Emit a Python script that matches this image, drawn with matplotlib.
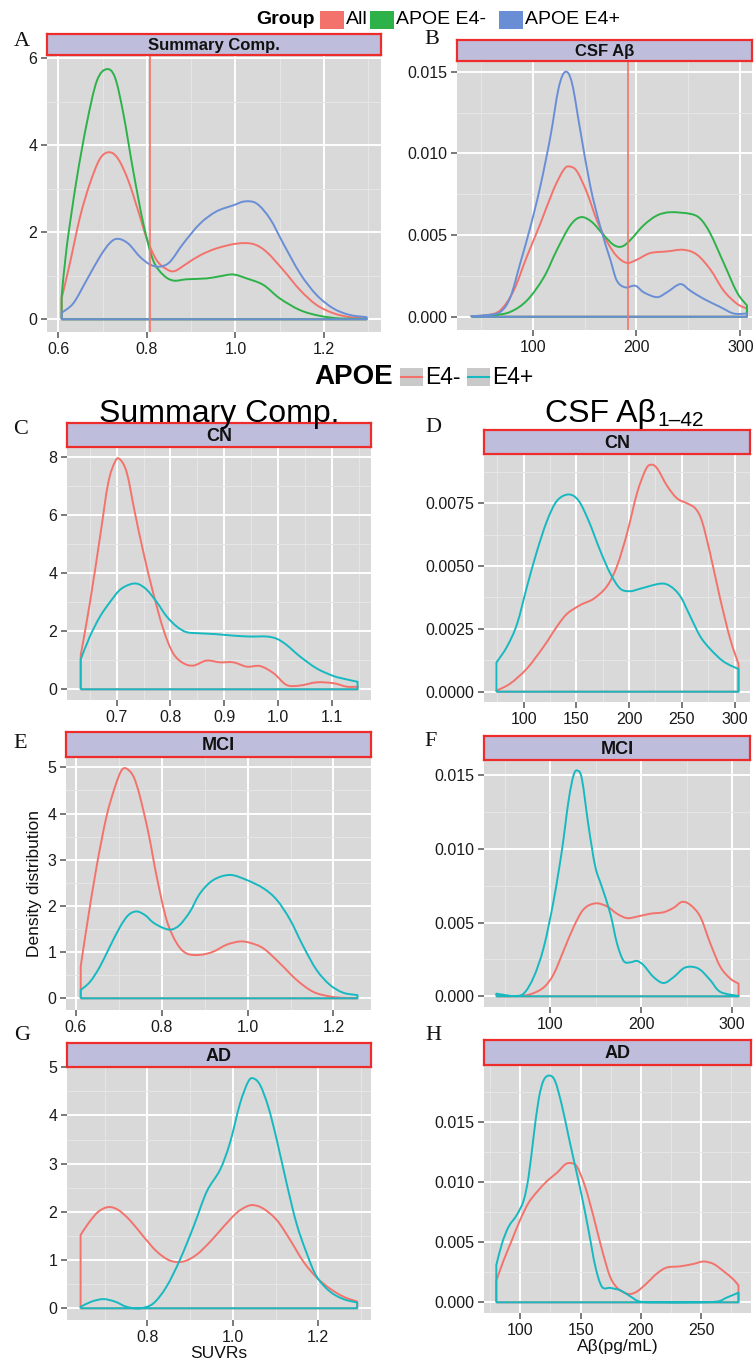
import numpy as np
import matplotlib
matplotlib.use("Agg")
import matplotlib.pyplot as plt
from matplotlib.patches import Rectangle, PathPatch
from matplotlib.path import Path

plt.rcParams['font.family'] = ['Liberation Sans', 'DejaVu Sans']

# ---- data (x, density) ----
RED, GREEN, BLUE, CYAN = '#F3736C', '#2DB24A', '#6A8ED6', '#17B9C1'

group_labels = ['All', 'APOE E4-', 'APOE E4+']
group_colors = [RED, GREEN, BLUE]
apoe_labels = ['E4-', 'E4+']
apoe_colors = [RED, CYAN]

# A: Summary Comp. (all subjects)
a_all = [(0.6075, 0.48), (0.626, 1.28), (0.649, 2.35), (0.671, 3.11), (0.694, 3.69), (0.715, 3.84),
         (0.735, 3.69), (0.758, 3.19), (0.781, 2.47), (0.80, 1.85), (0.822, 1.36), (0.845, 1.15),
         (0.863, 1.11), (0.89, 1.28), (0.92, 1.47), (0.957, 1.63), (1.003, 1.74), (1.04, 1.73),
         (1.07, 1.55), (1.108, 1.13), (1.146, 0.67), (1.183, 0.33), (1.221, 0.14), (1.258, 0.05), (1.296, 0.02)]
a_e4neg = [(0.6075, 0.52), (0.619, 1.66), (0.641, 3.19), (0.664, 4.49), (0.687, 5.48), (0.709, 5.75),
           (0.728, 5.56), (0.747, 4.72), (0.769, 3.42), (0.792, 2.20), (0.814, 1.36), (0.837, 1.02),
           (0.86, 0.89), (0.89, 0.92), (0.935, 0.94), (0.965, 0.99), (0.995, 1.03), (1.025, 0.94),
           (1.063, 0.79), (1.10, 0.48), (1.146, 0.21), (1.19, 0.08), (1.236, 0.02), (1.296, 0.01)]
a_e4pos = [(0.6075, 0.15), (0.634, 0.37), (0.664, 0.90), (0.694, 1.44), (0.717, 1.76), (0.735, 1.85),
           (0.758, 1.74), (0.784, 1.44), (0.807, 1.26), (0.829, 1.21), (0.852, 1.32), (0.882, 1.74),
           (0.92, 2.20), (0.957, 2.48), (0.995, 2.62), (1.021, 2.71), (1.048, 2.66), (1.078, 2.31),
           (1.108, 1.74), (1.146, 1.05), (1.183, 0.56), (1.221, 0.25), (1.258, 0.10), (1.296, 0.05)]
a_cut = 0.807

# B: CSF Abeta (all subjects)
b_all = [(41, 0.00004), (56, 0.0001), (68.9, 0.0004), (81.7, 0.0016), (94.5, 0.0037), (107.4, 0.0057),
         (120.2, 0.0078), (129.9, 0.0090), (135.6, 0.0092), (142.7, 0.0089), (152.3, 0.0076),
         (161.9, 0.0059), (171.6, 0.0046), (181.2, 0.0037), (190.8, 0.0033), (200.5, 0.0035),
         (213.3, 0.0039), (229.4, 0.0040), (245.4, 0.0041), (258.3, 0.0038), (271.1, 0.0029),
         (284, 0.0016), (296.8, 0.0008), (306.4, 0.0005)]
b_e4neg = [(41, 0.00004), (62.4, 0.0001), (78.5, 0.0003), (94.5, 0.0010), (110.6, 0.0024), (123.4, 0.0041),
           (136.3, 0.0056), (146.5, 0.0061), (157.1, 0.0058), (168.4, 0.0050), (178, 0.0044),
           (186, 0.0043), (194.1, 0.0047), (206.9, 0.0056), (219.7, 0.0062), (232.6, 0.0064),
           (251.8, 0.0063), (261.5, 0.0060), (271.1, 0.0051), (284, 0.0033), (296.8, 0.0015), (306.4, 0.0007)]
b_e4pos = [(41, 0.00004), (56, 0.0001), (68.9, 0.0003), (78.5, 0.0012), (88.1, 0.0033), (97.8, 0.0055),
           (107.4, 0.0080), (117, 0.0110), (125, 0.0140), (131.5, 0.0150), (137.9, 0.0143),
           (145.9, 0.0114), (155.5, 0.0080), (165.2, 0.0055), (174.8, 0.0035), (181.2, 0.0022),
           (189.2, 0.0018), (198.9, 0.0019), (206.9, 0.0015), (219.7, 0.0012), (229.4, 0.0015),
           (242.2, 0.0020), (251.8, 0.0016), (264.7, 0.0011), (280.7, 0.0006), (293.6, 0.0002), (306.4, 0.0002)]
b_cut = 192.3

# C: Summary Comp., CN
c_e4neg = [(0.633, 1.18), (0.65, 2.97), (0.669, 5.26), (0.684, 7.10), (0.697, 7.85), (0.706, 7.93),
           (0.719, 7.45), (0.734, 6.07), (0.75, 4.69), (0.768, 3.31), (0.787, 2.05), (0.805, 1.24),
           (0.824, 0.90), (0.843, 0.82), (0.867, 0.99), (0.892, 0.93), (0.917, 0.93), (0.942, 0.78),
           (0.967, 0.80), (0.992, 0.55), (1.016, 0.15), (1.041, 0.13), (1.072, 0.24), (1.103, 0.21),
           (1.128, 0.09), (1.148, 0.09)]
c_e4pos = [(0.633, 1.03), (0.65, 1.82), (0.669, 2.51), (0.688, 3.02), (0.706, 3.43), (0.725, 3.62),
           (0.74, 3.63), (0.756, 3.43), (0.774, 3.02), (0.793, 2.51), (0.812, 2.16), (0.83, 1.97),
           (0.855, 1.93), (0.886, 1.90), (0.917, 1.85), (0.948, 1.82), (0.979, 1.82), (0.998, 1.74),
           (1.016, 1.53), (1.041, 1.13), (1.072, 0.72), (1.103, 0.46), (1.128, 0.34), (1.148, 0.26)]

# D: CSF Abeta, CN
d_e4neg = [(74.1, 0.00004), (87.4, 0.00033), (103.2, 0.00093), (119, 0.0018), (131.6, 0.0026),
           (141.1, 0.0031), (153.7, 0.00345), (166.4, 0.0037), (179, 0.0042), (188.5, 0.0050),
           (198, 0.0063), (207.5, 0.0079), (215.3, 0.0088), (220.1, 0.00903), (226.4, 0.0089),
           (235.9, 0.0082), (245.3, 0.0077), (254.8, 0.0075), (262.7, 0.0073), (269, 0.0068),
           (276.9, 0.0055), (286.4, 0.0037), (295.9, 0.0021), (303.8, 0.0011)]
d_e4pos = [(74.1, 0.00116), (84.2, 0.0018), (93.7, 0.0027), (103.2, 0.0042), (112.6, 0.0056),
           (122.1, 0.0068), (131.6, 0.0076), (142.7, 0.00785), (152.1, 0.0076), (161.6, 0.0068),
           (172.7, 0.0056), (182.2, 0.0047), (191.6, 0.0041), (201.1, 0.0040), (210.6, 0.0041),
           (229.6, 0.0043), (239, 0.0042), (248.5, 0.0038), (258, 0.0030), (267.5, 0.0022),
           (276.9, 0.0017), (289.6, 0.0012), (303.8, 0.0009)]

# E: Summary Comp., MCI
e_e4neg = [(0.611, 0.69), (0.625, 1.55), (0.648, 2.85), (0.671, 3.93), (0.691, 4.58), (0.706, 4.93),
           (0.718, 4.97), (0.734, 4.80), (0.749, 4.37), (0.769, 3.57), (0.788, 2.64), (0.811, 1.70),
           (0.835, 1.19), (0.858, 0.97), (0.889, 0.94), (0.92, 1.01), (0.951, 1.16), (0.982, 1.23),
           (1.006, 1.20), (1.037, 1.08), (1.075, 0.76), (1.114, 0.40), (1.153, 0.14), (1.192, 0.04),
           (1.223, 0.01), (1.256, 0.003)]
e_e4pos = [(0.611, 0.18), (0.633, 0.36), (0.656, 0.69), (0.679, 1.12), (0.703, 1.55), (0.722, 1.80),
           (0.741, 1.88), (0.761, 1.80), (0.78, 1.64), (0.804, 1.52), (0.823, 1.49), (0.842, 1.59),
           (0.866, 1.88), (0.889, 2.27), (0.92, 2.56), (0.959, 2.67), (0.998, 2.56), (1.037, 2.38),
           (1.068, 2.13), (1.099, 1.70), (1.13, 1.12), (1.161, 0.61), (1.192, 0.29), (1.223, 0.12),
           (1.256, 0.07)]

# F: CSF Abeta, MCI
f_e4neg = [(40.6, 0.00002), (63.3, 0.00002), (78, 0.00014), (92.7, 0.0006), (103.7, 0.0015),
           (114.7, 0.0031), (125.7, 0.0047), (136.7, 0.0059), (149.5, 0.0063), (162.4, 0.0061),
           (173.4, 0.0056), (184.4, 0.0053), (195.4, 0.0054), (210.1, 0.0056), (224.8, 0.0057),
           (235.8, 0.0060), (245, 0.0064), (254.1, 0.0062), (265.1, 0.0054), (276.1, 0.0036),
           (287.2, 0.0020), (298.2, 0.0012), (307.3, 0.00086)]
f_e4pos = [(40.6, 0.00018), (48.6, 0.0001), (59.6, 0.00002), (70.6, 0.00018), (81.7, 0.0013),
           (92.7, 0.0033), (103.7, 0.0065), (112.8, 0.0099), (120.2, 0.0133), (125.7, 0.0150),
           (130.1, 0.0153), (134.9, 0.0147), (142.2, 0.0115), (149.5, 0.0088), (156.9, 0.0074),
           (166.1, 0.0056), (173.4, 0.0036), (180.7, 0.0024), (188.1, 0.0023), (195.4, 0.0024),
           (202.8, 0.0021), (213.8, 0.0013), (224.8, 0.0009), (235.8, 0.0013), (246.8, 0.0019),
           (256, 0.0020), (265.1, 0.0018), (276.1, 0.0011), (287.2, 0.0003), (307.3, 0.00002)]

# G: Summary Comp., AD
g_e4neg = [(0.644, 1.52), (0.662, 1.76), (0.685, 2.00), (0.709, 2.10), (0.732, 2.04), (0.759, 1.83),
           (0.791, 1.49), (0.822, 1.18), (0.853, 0.99), (0.884, 0.97), (0.915, 1.11), (0.947, 1.38),
           (0.978, 1.69), (1.009, 1.98), (1.032, 2.11), (1.048, 2.14), (1.071, 2.07), (1.103, 1.83),
           (1.134, 1.42), (1.165, 0.97), (1.196, 0.64), (1.227, 0.41), (1.259, 0.24), (1.291, 0.14)]
g_e4pos = [(0.644, 0.03), (0.67, 0.14), (0.697, 0.19), (0.724, 0.14), (0.752, 0.03), (0.783, 0.0),
           (0.814, 0.10), (0.845, 0.45), (0.876, 1.00), (0.908, 1.69), (0.939, 2.42), (0.97, 2.87),
           (0.993, 3.42), (1.017, 4.25), (1.036, 4.70), (1.048, 4.77), (1.064, 4.63), (1.083, 4.18),
           (1.103, 3.49), (1.126, 2.59), (1.149, 1.76), (1.173, 1.14), (1.196, 0.66), (1.227, 0.35),
           (1.259, 0.19), (1.291, 0.12)]

# H: CSF Abeta, AD
h_e4neg = [(80.1, 0.0018), (86.2, 0.0035), (93.1, 0.0052), (100, 0.0069), (106.9, 0.0083),
           (113.8, 0.0092), (122.1, 0.0101), (130.4, 0.0108), (137.3, 0.0115), (142, 0.0116),
           (147, 0.0113), (153.9, 0.0096), (160.8, 0.0071), (167.7, 0.0044), (174.6, 0.0021),
           (181.5, 0.0011), (189.8, 0.0007), (196.7, 0.0009), (205, 0.0016), (213.3, 0.0024),
           (221.5, 0.0029), (232.6, 0.0030), (243.6, 0.0032), (251.9, 0.0034), (260.2, 0.0032),
           (268.5, 0.0026), (276.8, 0.0019), (280.9, 0.0014)]
h_e4pos = [(80.1, 0.0031), (84.8, 0.0049), (90.3, 0.0063), (97.2, 0.0073), (102.8, 0.0085),
           (106.9, 0.0105), (111, 0.0138), (115.2, 0.0169), (119.3, 0.0185), (124.3, 0.0189),
           (129, 0.0184), (134.5, 0.0164), (140.1, 0.0138), (145.6, 0.0113), (151.1, 0.0088),
           (156.6, 0.0060), (162.2, 0.0030), (167.7, 0.0013), (174.6, 0.0012), (182.9, 0.0010),
           (191.2, 0.0005), (199.4, 0.00006), (216, 0.0), (243.6, 0.0), (263, 0.00006),
           (271.3, 0.0004), (280.9, 0.0008)]

W, H = 754, 1368
fig = plt.figure(figsize=(W / 100, H / 100), dpi=100)


def box(l, t, r, b):
    return [l / W, 1 - b / H, (r - l) / W, (b - t) / H]


def fx(x):
    return x / W


def fy(y):
    return 1 - y / H


def strip(px, label, size):
    s = fig.add_axes(box(*px))
    s.set_facecolor('#BEBEDC')
    s.set_xticks([])
    s.set_yticks([])
    for sp in s.spines.values():
        sp.set_color('#EE2C2C')
        sp.set_linewidth(1.6)
    s.text(0.5, 0.45, label, ha='center', va='center', fontsize=size, fontweight='bold',
           transform=s.transAxes, color='#111111')


def panel(px, xlim, ylim, xmaj, xmin, ymaj, ymin, xfmt, yfmt):
    ax = fig.add_axes(box(*px))
    ax.set_facecolor('#D9D9D9')
    ax.set_xlim(*xlim)
    ax.set_ylim(*ylim)
    ax.set_xticks(xmaj)
    ax.set_xticks(xmin, minor=True)
    ax.set_yticks(ymaj)
    ax.set_yticks(ymin, minor=True)
    ax.set_xticklabels([xfmt.format(v) for v in xmaj])
    ax.set_yticklabels([yfmt.format(v) for v in ymaj])
    ax.grid(which='major', color='white', lw=1.4)
    ax.grid(which='minor', color='#E6E6E6', lw=0.7)
    ax.set_axisbelow(True)
    for sp in ax.spines.values():
        sp.set_visible(False)
    ax.tick_params(which='major', length=4, width=1.1, color='#555555', labelsize=11.5,
                   labelcolor='#1A1A1A', pad=3)
    ax.tick_params(which='minor', length=0)
    return ax


def density(ax, pts, color):
    # closed density outline: smooth Bezier through the read points, straight sides and baseline
    p = np.array(pts, dtype=float)
    n = len(p)
    verts = [(p[0, 0], 0.0), tuple(p[0])]
    codes = [Path.MOVETO, Path.LINETO]
    for i in range(n - 1):
        p0 = p[max(i - 1, 0)]
        p1, p2 = p[i], p[i + 1]
        p3 = p[min(i + 2, n - 1)]
        c1 = p1 + (p2 - p0) / 6.0
        c2 = p2 - (p3 - p1) / 6.0
        verts += [tuple(c1), tuple(c2), tuple(p2)]
        codes += [Path.CURVE4] * 3
    verts += [(p[-1, 0], 0.0), (p[0, 0], 0.0)]
    codes += [Path.LINETO, Path.LINETO]
    ax.add_patch(PathPatch(Path(verts, codes), facecolor='none', edgecolor=color, lw=1.4,
                           joinstyle='round'))


# ---- A ----
ax = panel((47, 55, 381, 332), (0.5745, 1.3285), (-0.292, 6.076),
           [0.6, 0.8, 1.0, 1.2], [0.7, 0.9, 1.1, 1.3], [0, 2, 4, 6], [1, 3, 5], '{:.1f}', '{:d}')
ax.axvline(a_cut, color=RED, lw=1.2)
for pts, c in zip([a_all, a_e4neg, a_e4pos], group_colors):
    density(ax, pts, c)
strip((47, 34, 381, 55), 'Summary Comp.', 12)

# ---- B ----
ax = panel((457, 61, 752, 330), (27.1, 311.3), (-0.00081, 0.01566),
           [100, 200, 300], [50, 150, 250], [0, 0.005, 0.010, 0.015], [0.0025, 0.0075, 0.0125],
           '{:d}', '{:.3f}')
ax.axvline(b_cut, color=RED, lw=1.2)
for pts, c in zip([b_all, b_e4neg, b_e4pos], group_colors):
    density(ax, pts, c)
strip((457, 40, 752, 61), 'CSF Aβ', 12)

# ---- C ----
ax = panel((67, 447, 371, 700), (0.6075, 1.173), (-0.369, 8.355),
           [0.7, 0.8, 0.9, 1.0, 1.1], [0.65, 0.75, 0.85, 0.95, 1.05, 1.15], [0, 2, 4, 6, 8], [1, 3, 5, 7],
           '{:.1f}', '{:d}')
for pts, c in zip([c_e4neg, c_e4pos], apoe_colors):
    density(ax, pts, c)
strip((67, 423, 371, 447), 'CN', 13)

# ---- D ----
ax = panel((484, 454, 750, 702), (62.3, 314.7), (-0.00041, 0.00946),
           [100, 150, 200, 250, 300], [75, 125, 175, 225, 275], [0, 0.0025, 0.005, 0.0075],
           [0.00125, 0.00375, 0.00625, 0.00875], '{:d}', '{:.4f}')
for pts, c in zip([d_e4neg, d_e4pos], apoe_colors):
    density(ax, pts, c)
strip((484, 430, 750, 454), 'CN', 13)

# ---- E ----
ax = panel((66, 757, 371, 1010), (0.5767, 1.2876), (-0.253, 5.223),
           [0.6, 0.8, 1.0, 1.2], [0.7, 0.9, 1.1], [0, 1, 2, 3, 4, 5], [0.5, 1.5, 2.5, 3.5, 4.5],
           '{:.1f}', '{:d}')
for pts, c in zip([e_e4neg, e_e4pos], apoe_colors):
    density(ax, pts, c)
ax.set_ylabel('Density distribution', fontsize=12.5, color='#111111', labelpad=4)
strip((66, 732, 371, 757), 'MCI', 13)

# ---- F ----
ax = panel((484, 760, 750, 1007), (27, 319.9), (-0.000725, 0.01602),
           [100, 200, 300], [50, 150, 250], [0, 0.005, 0.010, 0.015], [0.0025, 0.0075, 0.0125],
           '{:d}', '{:.3f}')
for pts, c in zip([f_e4neg, f_e4pos], apoe_colors):
    density(ax, pts, c)
strip((484, 736, 750, 760), 'MCI', 13)

# ---- G ----
ax = panel((67, 1067, 371, 1320), (0.6122, 1.3233), (-0.243, 5.006),
           [0.8, 1.0, 1.2], [0.7, 0.9, 1.1, 1.3], [0, 1, 2, 3, 4, 5], [0.5, 1.5, 2.5, 3.5, 4.5],
           '{:.1f}', '{:d}')
for pts, c in zip([g_e4neg, g_e4pos], apoe_colors):
    density(ax, pts, c)
ax.set_xlabel('SUVRs', fontsize=12.5, color='#111111', labelpad=1)
strip((67, 1043, 371, 1067), 'AD', 13)

# ---- H ----
ax = panel((484, 1065, 751, 1313), (69.9, 291.3), (-0.00089, 0.01978),
           [100, 150, 200, 250], [75, 125, 175, 225, 275], [0, 0.005, 0.010, 0.015],
           [0.0025, 0.0075, 0.0125, 0.0175], '{:d}', '{:.3f}')
for pts, c in zip([h_e4neg, h_e4pos], apoe_colors):
    density(ax, pts, c)
ax.set_xlabel('Aβ(pg/mL)', fontsize=12.5, color='#111111', labelpad=1)
strip((484, 1040, 751, 1065), 'AD', 13)

# ---- panel letters ----
letters = ['A', 'B', 'C', 'D', 'E', 'F', 'G', 'H']
letter_pos = [(22, 42), (432, 40), (21, 429), (433, 428), (20, 743), (431, 742), (22, 1035), (433, 1036)]
for lab, (x, y) in zip(letters, letter_pos):
    fig.text(fx(x), fy(y), lab, ha='center', va='center', fontsize=16,
             family=['Liberation Serif', 'DejaVu Serif'], color='#111111')

# ---- top legend ----
fig.text(fx(315), fy(20), 'Group', ha='right', va='center', fontsize=14, fontweight='bold')
key_x = [320, 370, 499]
for lab, c, kx in zip(group_labels, group_colors, key_x):
    fig.patches.append(Rectangle((fx(kx), fy(29)), 24 / W, 18 / H, transform=fig.transFigure,
                                 facecolor=c, edgecolor='none'))
    fig.text(fx(kx + 26), fy(20), lab, ha='left', va='center', fontsize=14)

# ---- middle legend ----
fig.text(fx(393), fy(377), 'APOE', ha='right', va='center', fontsize=20, fontweight='bold')
key_x2 = [400, 467]
for lab, c, kx in zip(apoe_labels, apoe_colors, key_x2):
    fig.patches.append(Rectangle((fx(kx), fy(386)), 23 / W, 18 / H, transform=fig.transFigure,
                                 facecolor='#C9C9C9', edgecolor='none'))
    fig.lines.append(plt.Line2D([fx(kx + 1), fx(kx + 22)], [fy(377), fy(377)],
                                transform=fig.transFigure, color=c, lw=1.5))
    fig.text(fx(kx + 25), fy(377), lab, ha='left', va='center', fontsize=16.5)

# ---- column headers ----
fig.text(fx(219), fy(414), 'Summary Comp.', ha='center', va='center', fontsize=23)
main = fig.text(fx(545), fy(414), 'CSF Aβ', ha='left', va='center', fontsize=23)
fig.canvas.draw()
bb = main.get_window_extent()
fig.text(bb.x1 / W + 1 / W, fy(421), '1–42', ha='left', va='center', fontsize=15)

fig.savefig('out.png', dpi=100)
